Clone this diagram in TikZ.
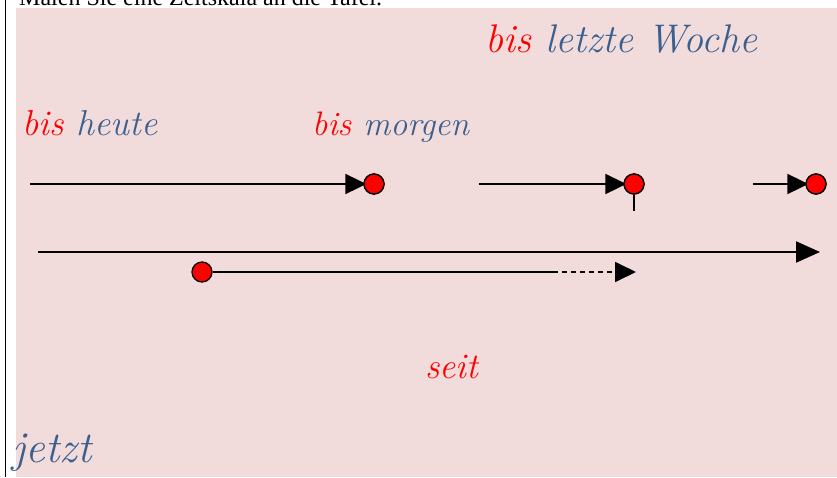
\documentclass[tikz,border=0pt]{standalone}
\usepackage{fontspec}
\newfontfamily\timesf{Liberation Serif}
\usetikzlibrary{arrows.meta}
\definecolor{board}{RGB}{242,220,219}
\definecolor{inkblue}{RGB}{59,96,143}
\definecolor{inkred}{RGB}{255,0,0}
\tikzset{
  hand/.style={anchor=base west, inner sep=0pt, font=\itshape\fontsize{#1}{#1}\selectfont},
  tline/.style={line width=1.8pt, -{Triangle[length=21pt,width=20pt]}},
  dot/.style={circle, draw=black, line width=1.3pt, fill=inkred, minimum size=20pt, inner sep=0pt},
}
\begin{document}
\begin{tikzpicture}[x=1pt,y=-1pt]
\useasboundingbox (0,0) rectangle (837,477);
\clip (0,0) rectangle (837,477);
% board and margin rule
\fill[white] (0,0) rectangle (837,477);
\fill[board] (16,8) rectangle (837,477);
\draw[line width=1.2pt] (5.5,0) -- (5.5,477);
\node[anchor=base west, inner sep=0pt, font=\timesf\fontsize{24}{24}\selectfont] (task) at (19,5) {Malen Sie eine Zeitskala an die Tafel.};

% labels
\node[hand=40] (woche) at (485,52) {\textcolor{inkred}{bis} \textcolor{inkblue}{letzte Woche}};
\node[hand=36] (heute) at (22,135) {\textcolor{inkred}{bis} \textcolor{inkblue}{heute}};
\node[hand=34] (morgen) at (312,135) {\textcolor{inkred}{bis} \textcolor{inkblue}{morgen}};
\node[hand=36, text=inkred] (seit) at (425,378) {seit};
\node[hand=44, text=inkblue] (jetzt) at (12,462) {jetzt};

% first row: arrows ending at a point
\node[dot] (d1) at (374,184) {};
\coordinate (a1) at (30,184);
\draw[tline] (a1) -- ([xshift=3pt]d1.west);
\node[dot] at (d1) {};

\node[dot] (d2) at (634,184) {};
\coordinate (a2) at (479,184);
\coordinate (t2) at (634,211);
\draw[line width=1.8pt] (d2.south) -- (t2);
\draw[tline] (a2) -- ([xshift=3pt]d2.west);
\node[dot] at (d2) {};

\node[dot] (d3) at (816,184) {};
\coordinate (a3) at (753,184);
\draw[tline] (a3) -- ([xshift=3pt]d3.west);
\node[dot] at (d3) {};

% time axis
\coordinate (ax0) at (38,252);
\coordinate (ax1) at (820,252);
\draw[line width=2.2pt, -{Triangle[length=24pt,width=21pt]}] (ax0) -- (ax1);

% since: from a point in the past onward
\node[dot] (d4) at (202,272) {};
\coordinate (s1) at (553,272);
\coordinate (s2) at (636,272);
\draw[line width=1.8pt] (d4.east) -- (s1);
\draw[line width=1.8pt, dash pattern=on 5pt off 4pt, -{Triangle[length=21pt,width=20pt]}] (s1) -- (s2);
\end{tikzpicture}
\end{document}
